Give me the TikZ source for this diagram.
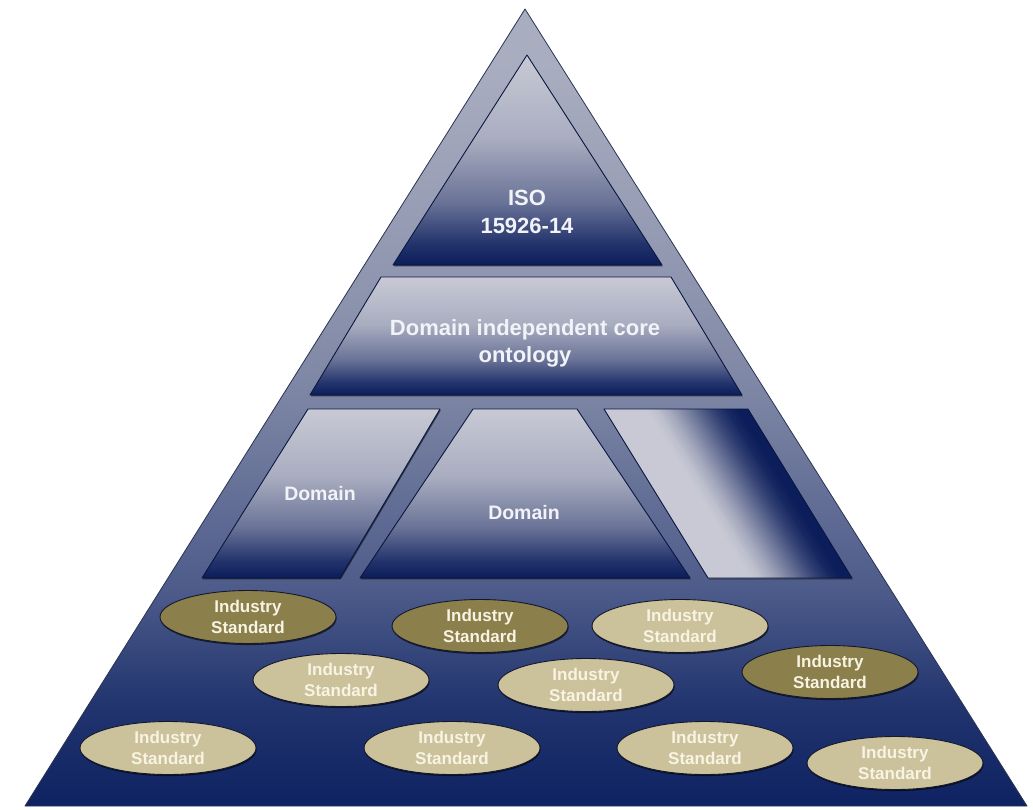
\documentclass[tikz,border=0pt]{standalone}
\usepackage{fontspec}
\setmainfont{Liberation Sans}
\usetikzlibrary{shapes.geometric,shadows}

% outer pyramid body
\definecolor{outA}{HTML}{0E2262}
\definecolor{outB}{HTML}{22356F}
\definecolor{outC}{HTML}{4D5B8A}
\definecolor{outD}{HTML}{7B84A3}
\definecolor{outE}{HTML}{8C93AD}
\definecolor{outF}{HTML}{A9ADC0}
\definecolor{outedge}{HTML}{2A3352}
% tiers
\definecolor{tiernavy}{HTML}{0B1D5A}
\definecolor{tierdeep}{HTML}{22336C}
\definecolor{tiermid}{HTML}{6A7397}
\definecolor{tierpale}{HTML}{A9ADC0}
\definecolor{tierlight}{HTML}{C8C9D4}
\definecolor{tieredge}{HTML}{0A1740}
% industry standards
\definecolor{stddarkfill}{HTML}{8B7F4C}
\definecolor{stdlightfill}{HTML}{CBC29C}
\definecolor{stdedge}{HTML}{15182A}
\definecolor{stdtext}{HTML}{F8F3E2}
\definecolor{labeltext}{HTML}{F2F3F8}

\pgfdeclareverticalshading{outerfill}{100bp}{color(0bp)=(outA); color(25bp)=(outA);
  color(31.5bp)=(outB); color(38.5bp)=(outC); color(50.5bp)=(outD);
  color(56.5bp)=(outE); color(71.5bp)=(outF); color(100bp)=(outF)}
\pgfdeclareverticalshading{tierfill}{100bp}{color(0bp)=(tiernavy); color(25bp)=(tiernavy);
  color(30bp)=(tierdeep); color(40bp)=(tiermid); color(55bp)=(tierpale);
  color(75bp)=(tierlight); color(100bp)=(tierlight)}

\begin{document}
\begin{tikzpicture}[x=1pt, y=-1pt, line join=round,
  tiershadow/.style={drop shadow={shadow xshift=0.8pt, shadow yshift=-1.4pt, opacity=0.55, fill=black}},
  tier/.style={shading=tierfill, draw=tieredge, line width=0.9pt, tiershadow},
  tierlabel/.style={text=labeltext, align=center, inner sep=0pt},
  stdbase/.style={ellipse, minimum width=176pt, minimum height=53pt, inner sep=0pt,
    draw=stdedge, line width=0.9pt, align=center, text=stdtext,
    font=\fontsize{17}{21}\selectfont\bfseries,
    drop shadow={shadow xshift=0.6pt, shadow yshift=-1.6pt, opacity=0.6, fill=black}},
  stddark/.style={stdbase, fill=stddarkfill},
  stdlight/.style={stdbase, fill=stdlightfill}]

\useasboundingbox (0,0) rectangle (1033,809);
\fill[white] (0,0) rectangle (1033,809);

% pyramid body
\shadedraw[shading=outerfill, draw=outedge, line width=0.8pt]
  (525,9) -- (1027,806) -- (25,806) -- cycle;

% apex tier
\shadedraw[tier] (527,55) -- (662,265) -- (393,265) -- cycle;
\node[tierlabel, font=\fontsize{22}{28}\selectfont\bfseries] (iso) at (527,212) {ISO\\15926-14};

% core ontology tier
\shadedraw[tier] (381,277) -- (671,277) -- (742,395) -- (310,395) -- cycle;
\node[tierlabel, font=\fontsize{22}{27}\selectfont\bfseries] (core) at (525,343)
  {Domain independent core\\ontology};

% domain tier
\shadedraw[tier] (308,409) -- (440,409) -- (340,578) -- (202,578) -- cycle;
\node[tierlabel, font=\fontsize{19.5}{23}\selectfont\bfseries] (domA) at (320,494) {Domain};

\shadedraw[tier] (473,409) -- (577,409) -- (690,578) -- (360,578) -- cycle;
\node[tierlabel, font=\fontsize{19.5}{23}\selectfont\bfseries] (domB) at (524,513) {Domain};

% open domain slot, shaded across its slant
\fill[tierlight, tiershadow] (604,409) -- (748,409) -- (852,578) -- (708,578) -- cycle;
\foreach \i in {0,...,59} {
  \pgfmathsetmacro\ta{\i/60}
  \pgfmathsetmacro\tb{min((\i+1.7)/60,1)}
  \pgfmathsetmacro\ramp{max(0,min(1,(\ta-0.28)/0.64))}
  \pgfmathtruncatemacro\pct{100*(0.35*\ramp+0.65*\ramp*\ramp*(3-2*\ramp))}
  \fill[tiernavy!\pct!tierlight]
    ({604+144*\ta},409) -- ({604+144*\tb},409) -- ({708+144*\tb},578) -- ({708+144*\ta},578) -- cycle;
}
\draw[draw=tieredge, line width=0.9pt] (604,409) -- (748,409) -- (852,578) -- (708,578) -- cycle;

% industry standards
\node[stddark]  (s1)  at (248,617) {Industry\\Standard};
\node[stddark]  (s2)  at (480,626) {Industry\\Standard};
\node[stdlight] (s4)  at (680,626) {Industry\\Standard};
\node[stdlight] (s3)  at (341,680) {Industry\\Standard};
\node[stdlight] (s5)  at (586,685) {Industry\\Standard};
\node[stddark]  (s6)  at (830,672) {Industry\\Standard};
\node[stdlight] (s7)  at (168,748) {Industry\\Standard};
\node[stdlight] (s8)  at (452,748) {Industry\\Standard};
\node[stdlight] (s9)  at (705,748) {Industry\\Standard};
\node[stdlight] (s10) at (895,763) {Industry\\Standard};

\end{tikzpicture}
\end{document}
